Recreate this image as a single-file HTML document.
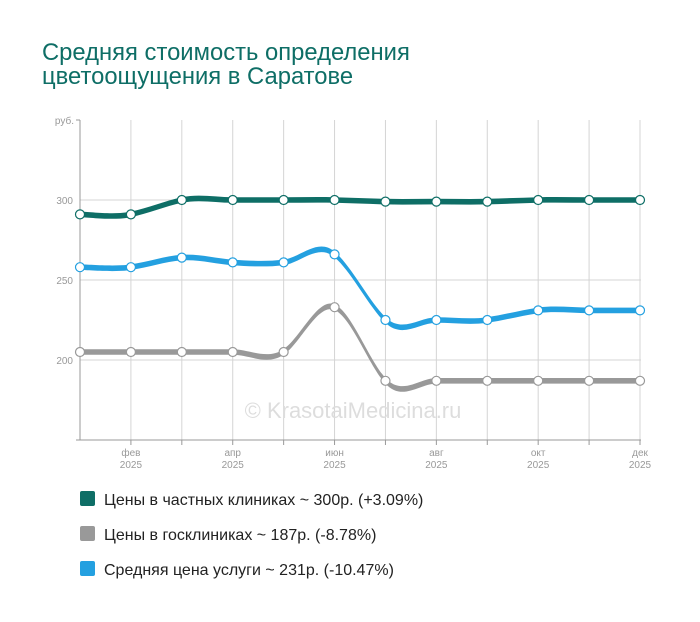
<!DOCTYPE html>
<html><head><meta charset="utf-8"><style>
body{margin:0;background:#fff;width:700px;height:617px;overflow:hidden;font-family:"Liberation Sans",sans-serif}
</style></head><body>
<svg width="700" height="617" xmlns="http://www.w3.org/2000/svg" font-family="Liberation Sans, sans-serif">
<text x="42" y="60" font-size="23.8" fill="#0e6e66">Средняя стоимость определения</text>
<text x="42" y="84" font-size="23.8" fill="#0e6e66">цветоощущения в Саратове</text>
<g id="grid" stroke="#d4d4d4" stroke-width="1"></g>
<line x1="80" y1="120" x2="80" y2="440" stroke="#999"/>
<line x1="76" y1="440" x2="641" y2="440" stroke="#999"/>
<line x1="76" y1="120" x2="80" y2="120" stroke="#999"/>
<g font-size="10" fill="#999" text-anchor="end">
<text x="74" y="124">руб.</text><text x="73" y="204">300</text><text x="73" y="284">250</text><text x="73" y="364">200</text>
</g>
<g font-size="10" fill="#999" text-anchor="middle" id="xl"></g>
<text x="353" y="418" font-size="22" fill="#ddd" text-anchor="middle">© KrasotaiMedicina.ru</text>
<g id="series"></g>
<g font-size="16" fill="#222">
<rect x="80" y="491" width="15" height="15" fill="#0e6e66" rx="2"/><text x="104" y="505">Цены в частных клиниках ~ 300р. (+3.09%)</text>
<rect x="80" y="526" width="15" height="15" fill="#999" rx="2"/><text x="104" y="540">Цены в госклиниках ~ 187р. (-8.78%)</text>
<rect x="80" y="561" width="15" height="15" fill="#24a0e0" rx="2"/><text x="104" y="575">Средняя цена услуги ~ 231р. (-10.47%)</text>
</g>
</svg>
<script>
const ns="http://www.w3.org/2000/svg";
const xs=[];for(let i=0;i<12;i++)xs.push(80+i*(560/11));
const g=document.getElementById('grid');
function el(p,t,a){const e=document.createElementNS(ns,t);for(const k in a)e.setAttribute(k,a[k]);p.appendChild(e);return e;}
xs.slice(1).forEach(x=>el(g,'line',{x1:x,y1:120,x2:x,y2:440}));
[200,280,360].forEach(y=>el(g,'line',{x1:80,y1:y,x2:641,y2:y}));
xs.slice(1).forEach(x=>el(g,'line',{x1:x,y1:440,x2:x,y2:445,stroke:'#999'}));
const xl=document.getElementById('xl');
[['фев',1],['апр',3],['июн',5],['авг',7],['окт',9],['дек',11]].forEach(([m,i])=>{
const t=el(xl,'text',{x:xs[i],y:456});t.textContent=m;const t2=el(xl,'text',{x:xs[i],y:468});t2.textContent='2025';});
const Y=v=>200-(v-300)*1.6;
const data=[
['#999',[205,205,205,205,205,233,187,187,187,187,187,187]],
['#24a0e0',[258,258,264,261,261,266,225,225,225,231,231,231]],
['#0e6e66',[291,291,300,300,300,300,299,299,299,300,300,300]]];
const s=document.getElementById('series');
function segs(p,off){let d='';
for(let i=0;i<11;i++){const p0=p[Math.max(0,i-1)],p1=p[i],p2=p[i+1],p3=p[Math.min(11,i+2)];const k=0.25;
d+=` C${p1[0]+(p2[0]-p0[0])*k*0.66},${p1[1]+(p2[1]-p0[1])*k+off} ${p2[0]-(p3[0]-p1[0])*k*0.66},${p2[1]-(p3[1]-p1[1])*k+off} ${p2[0]},${p2[1]+off}`;}
return d;}
function segsRev(p,off){const r=p.slice().reverse();return segs(r,off);}
data.forEach(([c,v])=>{
const p=v.map((d,i)=>[xs[i],Y(d)]);
const h=2.8;
const d='M'+p[0][0]+','+(p[0][1]-h)+segs(p,-h)+' L'+p[11][0]+','+(p[11][1]+h)+segsRev(p,h)+'Z';
el(s,'path',{d:d,fill:c,stroke:'none'});
el(s,'path',{d:'M'+p[0]+segs(p,0),fill:'none',stroke:c,'stroke-width':1.8});
p.forEach(q=>el(s,'circle',{cx:q[0],cy:q[1],r:4.5,fill:'#fff',stroke:c,'stroke-width':1.2}));
});
</script>
</body></html>
